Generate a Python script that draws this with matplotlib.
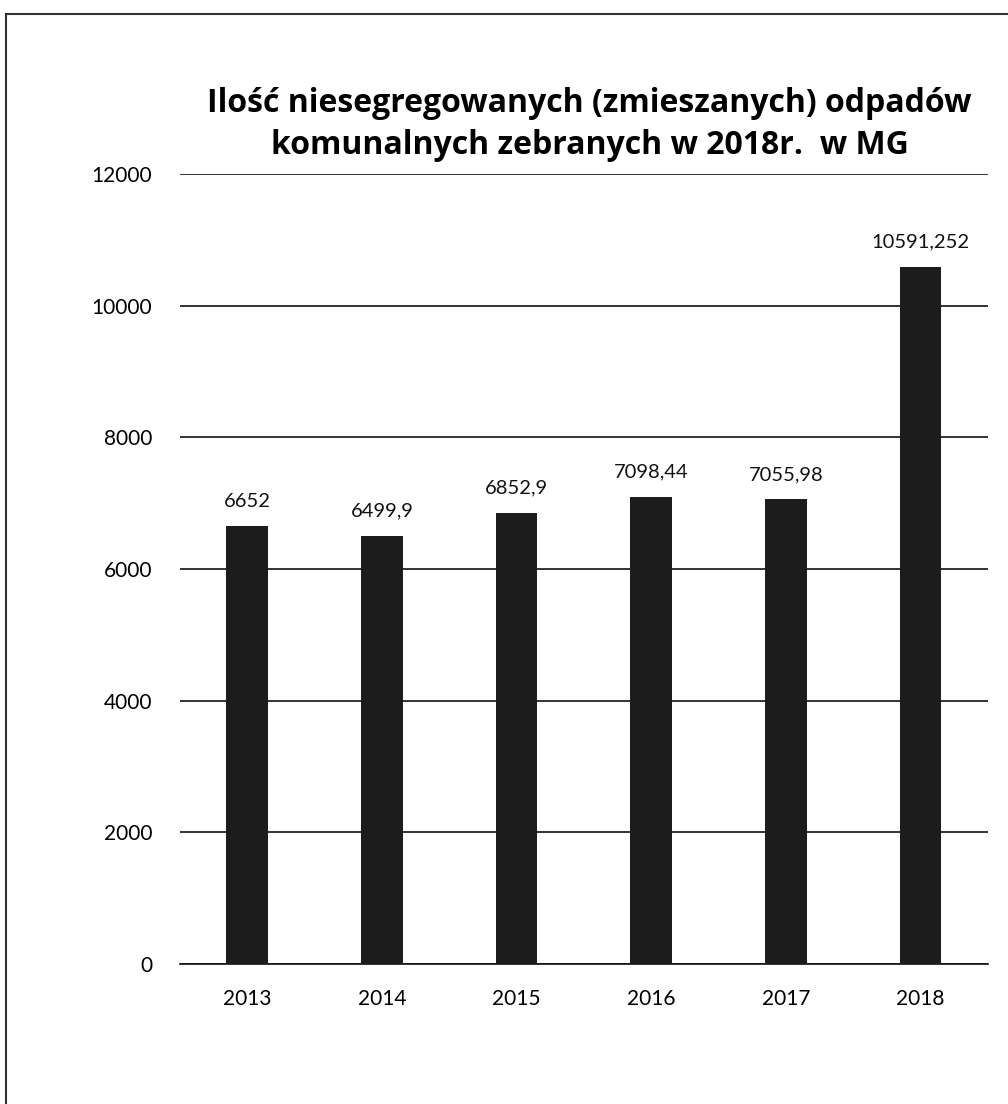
import matplotlib
matplotlib.use("Agg")
import matplotlib.pyplot as plt
from matplotlib.lines import Line2D

years = ["2013", "2014", "2015", "2016", "2017", "2018"]
values = [6652, 6499.9, 6852.9, 7098.44, 7055.98, 10591.252]
value_labels = ["6652", "6499,9", "6852,9", "7098,44", "7055,98", "10591,252"]
yticks = [0, 2000, 4000, 6000, 8000, 10000, 12000]
title = "Ilość niesegregowanych (zmieszanych) odpadów\nkomunalnych zebranych w 2018r.  w MG"

plt.rcParams['font.family'] = ['Lato', 'DejaVu Sans']

fig = plt.figure(figsize=(10.08, 11.04), dpi=100)
ax = fig.add_axes([0.1786, 0.1268, 0.8014, 0.7156])

x = list(range(len(years)))
ax.bar(x, values, width=0.31, color='#1c1c1c', zorder=3)
for xi, v, lab in zip(x, values, value_labels):
    ax.text(xi, v + 250, lab, ha='center', va='bottom', fontsize=14.5, color='#111111')

ax.set_ylim(0, 12000)
ax.set_xlim(-0.5, len(years) - 0.5)
ax.set_yticks(yticks)
ax.set_yticklabels([str(t) for t in yticks], fontsize=15)
ax.set_xticks(x)
ax.set_xticklabels(years, fontsize=15)
ax.tick_params(axis='y', length=0, pad=20)
ax.tick_params(axis='x', length=0, pad=18)
ax.grid(axis='y', color='#111111', linewidth=1.2, zorder=0)
for s in ['top', 'right', 'left']:
    ax.spines[s].set_visible(False)
ax.spines['bottom'].set_color('#111111')
ax.spines['bottom'].set_linewidth(1.2)

fig.text(0.585, 0.887, title, ha='center', va='center', fontsize=23,
         fontweight='bold', linespacing=1.35, family=['Open Sans', 'DejaVu Sans'])

# scanned page frame
fig.add_artist(Line2D([0.006, 1.0], [0.987, 0.987], color='#333333', linewidth=1.5))
fig.add_artist(Line2D([0.006, 0.006], [0.0, 0.987], color='#333333', linewidth=1.5))

fig.savefig("out.png", dpi=100, facecolor='white')
